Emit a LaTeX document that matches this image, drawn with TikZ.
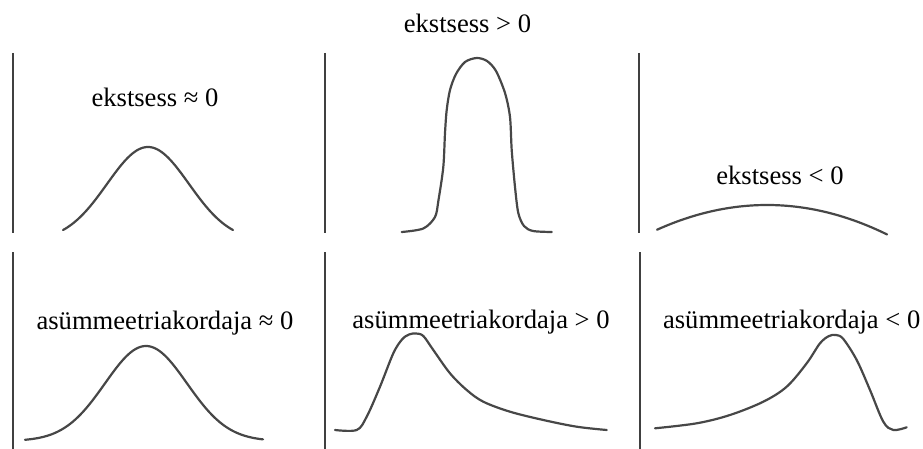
\documentclass[tikz,border=0pt]{standalone}
\usepackage{fontspec}
\setmainfont{Liberation Serif}
\begin{document}
\begin{tikzpicture}[x=1pt,y=-1pt,
  axisline/.style={draw=black!75,line width=1.8pt},
  curve/.style={draw=black!72,line width=2.2pt,line join=round,line cap=round},
  lbl/.style={anchor=base,inner sep=0pt,font=\fontsize{26.6}{30}\selectfont}]
\useasboundingbox (0,0) rectangle (923,449);
% vertical axes
\draw[axisline] (13,53) -- (13,233);
\draw[axisline] (325,53) -- (325,233);
\draw[axisline] (639,53) -- (639,233);
\draw[axisline] (13,252) -- (13,449);
\draw[axisline] (325,252) -- (325,449);
\draw[axisline] (640,252) -- (640,449);
% labels
\node[lbl] (k0) at (155,107) {ekstsess ≈ 0};
\node[lbl] (kp) at (467.5,33) {ekstsess > 0};
\node[lbl] (kn) at (780,185) {ekstsess < 0};
\node[lbl] (a0) at (165,329) {asümmeetriakordaja ≈ 0};
\node[lbl] (ap) at (481,328) {asümmeetriakordaja > 0};
\node[lbl] (an) at (791.7,328) {asümmeetriakordaja < 0};
% top-left: normal
\draw[curve] plot[domain=63:233,samples=80] (\x,{241-94*exp(-((\x-148)^2)/(2*41*41))});
% top-middle: peaked
\draw[curve] plot[smooth,tension=0.5] coordinates {(401.7,232) (423.3,228.5) (435,217) (438.5,200) (443.3,167) (445,133) (446.7,110) (450,90) (456,74) (465,62) (476.7,58) (487,61) (496,71) (505,93) (510,117) (511.7,150) (515,187) (518.3,213) (524,226) (533,231) (551.7,232)};
% top-right: flat
\draw[curve] plot[domain=657:887,samples=60] (\x,{205+0.00205*(\x-767)^2});
% bottom-left: symmetric
\draw[curve] plot[domain=25:263,samples=100] (\x,{441-95*exp(-((\x-146)^2)/(2*41*41))});
% bottom-middle: right skew
\draw[curve] plot[smooth,tension=0.55] coordinates {(335,430) (356.7,430) (366.7,416.7) (380,386.7) (393.3,353.3) (402,339.5) (409,334.5) (416,333.5) (423.3,336) (433.3,350) (450,373.3) (466.7,390) (483.3,401.7) (510,411.7) (543.3,420) (576.7,426.7) (606.7,430)};
% bottom-right: left skew
\draw[curve] plot[smooth,tension=0.55] coordinates {(655,428.3) (696.7,423.3) (730,415) (763.3,401.7) (786.7,386.7) (806.7,363.3) (820,343.3) (829,336) (836,335) (843.3,339) (856.7,360) (870,390) (883.3,421.7) (893.3,430) (906.7,427.3)};
\end{tikzpicture}
\end{document}
